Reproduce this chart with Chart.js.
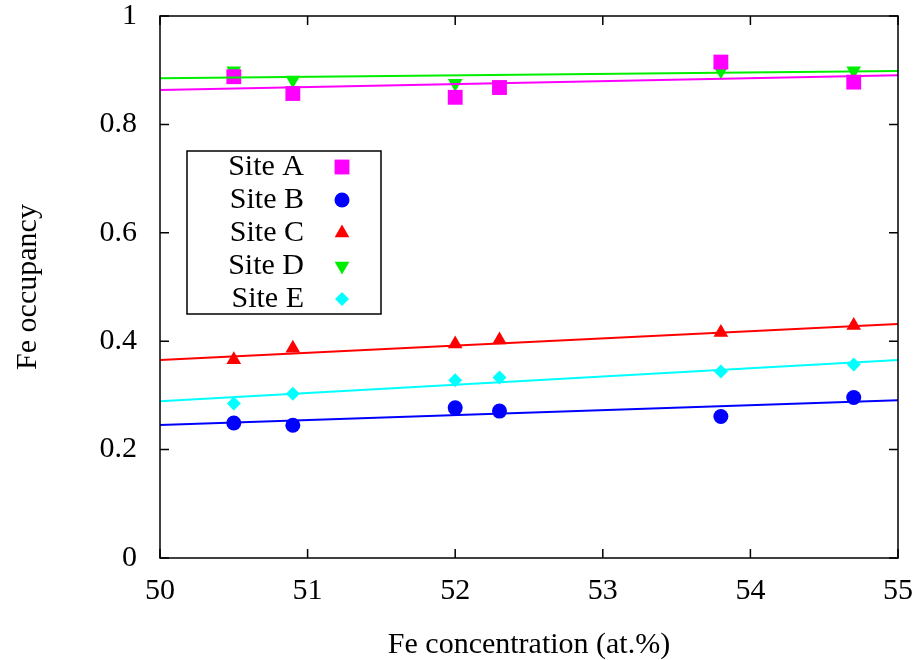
<!DOCTYPE html>
<html>
<head>
<meta charset="utf-8">
<script src="https://cdn.jsdelivr.net/npm/chart.js@4/dist/chart.umd.min.js"></script>
<style>
  html, body { margin: 0; padding: 0; background: #fff; }
  #chart { display: block; }
</style>
</head>
<body>
<canvas id="chart" width="923" height="660"></canvas>
<script>
// Fe concentration (at.%) of the samples
const concentrations = [50.5, 50.9, 52.0, 52.3, 53.8, 54.7];

// measured Fe occupancy per site
const siteA = [0.888, 0.857, 0.850, 0.868, 0.915, 0.878];
const siteB = [0.249, 0.245, 0.277, 0.271, 0.261, 0.296];
const siteC = [0.366, 0.387, 0.395, 0.402, 0.416, 0.429];
const siteD = [0.899, 0.882, 0.876, 0.873, 0.899, 0.899];
const siteE = [0.285, 0.303, 0.328, 0.333, 0.344, 0.357];

// linear fits, end points at 50 and 55 at.%
const fitX = [50, 55];
const fitA = [0.8635, 0.8906];
const fitB = [0.2454, 0.2909];
const fitC = [0.3653, 0.4317];
const fitD = [0.8850, 0.8985];
const fitE = [0.2890, 0.3653];

const siteLabels = ['Site A', 'Site B', 'Site C', 'Site D', 'Site E'];
const xTicks = [50, 51, 52, 53, 54, 55];
const yTicks = [0, 0.2, 0.4, 0.6, 0.8, 1];

const serif = "'Liberation Serif', 'Times New Roman', serif";

function pts(xs, ys) {
    return xs.map((x, i) => ({ x: x, y: ys[i] }));
}

const styles = [
    { color: '#ff00ff', pointStyle: 'rect', radius: 10.5, rotation: 0 },
    { color: '#0000ff', pointStyle: 'circle', radius: 7.5, rotation: 0 },
    { color: '#ff0000', pointStyle: 'triangle', radius: 8.5, rotation: 0 },
    { color: '#00ee00', pointStyle: 'triangle', radius: 8.5, rotation: 180 },
    { color: '#00ffff', pointStyle: 'rectRot', radius: 7, rotation: 0 }
];
const values = [siteA, siteB, siteC, siteD, siteE];
const fits = [fitA, fitB, fitC, fitD, fitE];

const datasets = [];
values.forEach((v, i) => {
    const s = styles[i];
    datasets.push({
        label: siteLabels[i],
        data: pts(concentrations, v),
        showLine: false,
        pointStyle: s.pointStyle,
        pointRadius: s.radius,
        pointHoverRadius: s.radius,
        pointRotation: s.rotation,
        pointBackgroundColor: s.color,
        pointBorderWidth: 0,
        borderColor: s.color,
        order: 2
    });
});
fits.forEach((f, i) => {
    datasets.push({
        label: siteLabels[i] + ' fit',
        data: pts(fitX, f),
        showLine: true,
        borderColor: styles[i].color,
        borderWidth: 2,
        pointRadius: 0,
        order: 1
    });
});

// gnuplot-like frame, inward ticks and the boxed legend
const framePlugin = {
    id: 'frame',
    afterDatasetsDraw(chart) {
        const ctx = chart.ctx;
        const a = chart.chartArea;
        const xs = chart.scales.x, ys = chart.scales.y;
        const tl = 9;
        ctx.save();
        ctx.strokeStyle = '#000';
        ctx.lineWidth = 1.5;
        ctx.beginPath();
        xTicks.forEach(t => {
            const px = xs.getPixelForValue(t);
            ctx.moveTo(px, a.bottom); ctx.lineTo(px, a.bottom - tl);
            ctx.moveTo(px, a.top); ctx.lineTo(px, a.top + tl);
        });
        yTicks.forEach(t => {
            const py = ys.getPixelForValue(t);
            ctx.moveTo(a.left, py); ctx.lineTo(a.left + tl, py);
            ctx.moveTo(a.right, py); ctx.lineTo(a.right - tl, py);
        });
        ctx.stroke();
        ctx.strokeRect(a.left, a.top, a.right - a.left, a.bottom - a.top);

        // legend
        ctx.fillStyle = '#fff';
        ctx.fillRect(187, 151, 194, 163);
        ctx.strokeRect(187, 151, 194, 163);
        ctx.font = '30px ' + serif;
        ctx.textAlign = 'right';
        ctx.textBaseline = 'middle';
        siteLabels.forEach((lab, i) => {
            const y = 167 + 33 * i;
            ctx.fillStyle = '#000';
            ctx.fillText(lab, 304, y);
            const s = styles[i];
            ctx.fillStyle = s.color;
            ctx.strokeStyle = s.color;
            Chart.helpers.drawPoint(ctx, {
                pointStyle: s.pointStyle, radius: s.radius,
                rotation: s.rotation, borderWidth: 0
            }, 342, y);
        });
        ctx.restore();
    }
};

new Chart(document.getElementById('chart'), {
    type: 'scatter',
    data: { datasets: datasets },
    options: {
        responsive: false,
        animation: false,
        layout: { padding: { left: 0, right: 25, top: 16, bottom: 0 } },
        plugins: { legend: { display: false }, tooltip: { enabled: false } },
        scales: {
            x: {
                type: 'linear',
                min: 50, max: 55,
                afterBuildTicks: s => { s.ticks = xTicks.map(v => ({ value: v })); },
                afterFit: s => {
                    s.height = 102;
                    s.paddingLeft = 0; s.paddingRight = 0;
                },
                grid: { display: false, drawTicks: false },
                border: { display: false },
                ticks: {
                    color: '#000', padding: 18, maxRotation: 0,
                    font: { family: serif, size: 30, lineHeight: 1 },
                    callback: v => String(v)
                },
                title: {
                    display: true, text: 'Fe concentration (at.%)', color: '#000',
                    font: { family: serif, size: 30, lineHeight: 1 },
                    padding: { top: 0, bottom: 0 }
                }
            },
            y: {
                type: 'linear',
                min: 0, max: 1,
                afterBuildTicks: s => { s.ticks = yTicks.map(v => ({ value: v })); },
                afterFit: s => {
                    s.width = 160;
                    s.paddingTop = 0; s.paddingBottom = 0;
                },
                grid: { display: false, drawTicks: false },
                border: { display: false },
                ticks: {
                    color: '#000', padding: 23,
                    font: { family: serif, size: 30, lineHeight: 1 },
                    callback: v => String(Math.round(v * 10) / 10)
                },
                title: {
                    display: true, text: 'Fe occupancy', color: '#000',
                    font: { family: serif, size: 30, lineHeight: 1 },
                    padding: { top: 13, bottom: 0 }
                }
            }
        }
    },
    plugins: [framePlugin]
});
</script>
</body>
</html>
